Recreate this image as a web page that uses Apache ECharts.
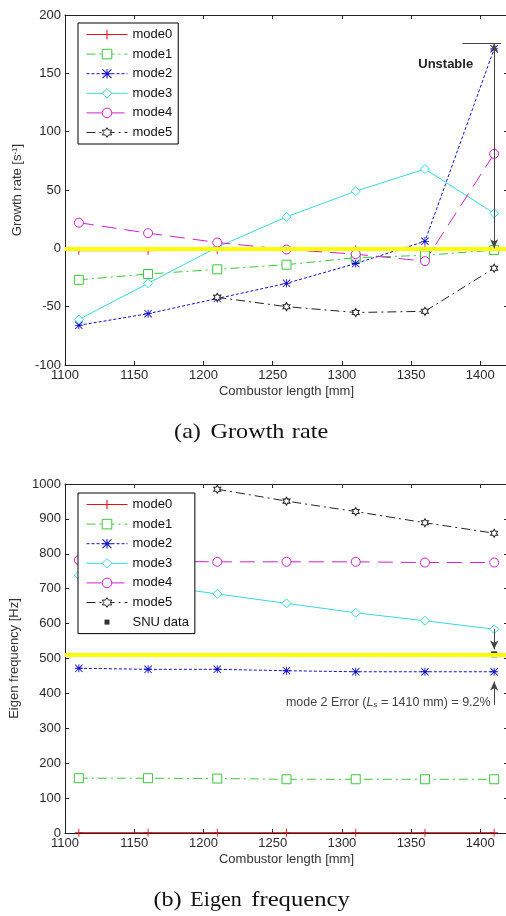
<!DOCTYPE html>
<html><head><meta charset="utf-8">
<script src="https://cdn.jsdelivr.net/npm/echarts@6/dist/echarts.min.js"></script>
<style>html,body{margin:0;padding:0;background:#fff}#c{width:506px;height:916px}</style>
</head><body><div id="c"></div>
<script>
// ---------------- data ----------------
const lengths = [1110, 1160, 1210, 1260, 1310, 1360, 1410];
const modeNames = ['mode0', 'mode1', 'mode2', 'mode3', 'mode4', 'mode5'];

const growthMode0 = [-2, -2, -1.5, -1, -1, -1, -0.5];
const growthMode1 = [-27, -22, -18, -14, -8, -6, -1.5];
const growthMode2 = [-66, -56, -43, -30, -13, 6, 171];
const growthMode3 = [-61, -30, 1, 27, 49, 68, 30];
const growthMode4 = [22, 13, 5, -1, -5, -11, 81];
const growthMode5 = [null, null, -42, -50, -55, -54, -17];

const freqMode0 = [1, 1, 1, 1, 1, 1, 1];
const freqMode1 = [157, 157, 156, 154, 154, 154, 154];
const freqMode2 = [472, 469, 469, 465, 462, 462, 462];
const freqMode3 = [739, 712, 685, 658, 631, 608, 584];
const freqMode4 = [782, 779, 777, 777, 777, 775, 775];
const freqMode5 = [null, null, 985, 951, 921, 889, 859];

const snuName = 'SNU data';
const snuLength = [1410];
const snuFreq = [512];

const growthRefLine = 0;
const freqRefLine = 510;

const xRange = [1100, 1420], xStep = 50;
const growthRange = [-100, 200], growthStep = 50;
const freqRange = [0, 1000], freqStep = 100;

// annotations (data coordinates)
const unstableArrow = [[1410, 0], [1410, 176]];
const unstableCap = [[1387, 176], [1415, 176]];
const unstableText = 'Unstable';
const unstableTextAt = [1375, 158];
const errArrowDown = [[1410, 584], [1410, 526]];
const errArrowUp = [[1410, 367], [1410, 434]];
const errTextAt = [1410, 375];

// ---------------- styles ----------------
const FONT = 'Arial, "Liberation Sans", Helvetica, sans-serif';
const SERIF = '"Times New Roman", "Liberation Serif", serif';
const SYM = {
  plus: 'path://M4,0h1v9h-1zM0,4h9v1h-9z',
  star: 'path://M4,0h1v9h-1zM0,4h9v1h-9zM0.7,0L9,8.3L8.3,9L0,0.7ZM8.3,0L9,0.7L0.7,9L0,8.3Z',
  hex: 'path://M10,0L12.887,5L18.66,5L15.77,10L18.66,15L12.887,15L10,20L7.113,15L1.34,15L4.23,10L1.34,5L7.113,5Z'
};
const modeStyle = [
  { color: '#e8101a', dash: 'solid', symbol: SYM.plus, size: 8, hollow: false, z: 1 },
  { color: '#3cc63c', dash: [9, 4, 2, 4], symbol: 'rect', size: 9, hollow: true, z: 2 },
  { color: '#1010c8', dash: [3, 2], symbol: SYM.star, size: 8, hollow: false, z: 2 },
  { color: '#3cd8dc', dash: 'solid', symbol: 'diamond', size: 9, hollow: true, z: 2 },
  { color: '#cc22cc', dash: [15, 8], symbol: 'circle', size: 9, hollow: true, z: 2 },
  { color: '#222222', dash: [9, 4, 2, 4], symbol: SYM.hex, size: [7, 8], hollow: true, z: 2 }
];

const pairs = (xs, ys) => xs.map((x, i) => [x, ys[i]]).filter(p => p[1] !== null);
const plainNum = v => String(v);

function modeSeries(idx, values, gi) {
  const st = modeStyle[idx];
  return {
    type: 'line', name: modeNames[idx], xAxisIndex: gi * 2, yAxisIndex: gi * 2,
    data: pairs(lengths, values),
    symbol: st.symbol, symbolSize: st.size, showSymbol: true, showAllSymbol: true,
    lineStyle: { color: st.color, width: 1, type: st.dash },
    itemStyle: st.hollow ? { color: '#fff', borderColor: st.color, borderWidth: 1 } : { color: st.color, borderWidth: 0 },
    emphasis: { disabled: true }, animation: false, z: st.z, silent: true
  };
}

const axisCommon = {
  axisLine: { show: true, onZero: false, lineStyle: { color: '#222', width: 1 } },
  axisTick: { show: true, inside: true, length: 4, lineStyle: { color: '#222' } },
  splitLine: { show: false }
};
function xAxisFor(gi, top) {
  return Object.assign({}, axisCommon, {
    type: 'value', gridIndex: gi, min: xRange[0], max: xRange[1], interval: xStep,
    position: top ? 'top' : 'bottom',
    axisLabel: top ? { show: false } : { show: true, color: '#2a2a2a', fontSize: 13, fontFamily: FONT, margin: 4, showMaxLabel: false, formatter: plainNum },
    name: top ? '' : 'Combustor length [mm]', nameLocation: 'middle', nameGap: 20,
    nameTextStyle: { color: '#333', fontSize: 13, fontFamily: FONT }
  });
}
function yAxisFor(gi, right, range, step, name, gap) {
  return Object.assign({}, axisCommon, {
    type: 'value', gridIndex: gi, min: range[0], max: range[1], interval: step,
    position: right ? 'right' : 'left',
    axisLabel: right ? { show: false } : { show: true, color: '#2a2a2a', fontSize: 13, fontFamily: FONT, margin: 4, formatter: plainNum },
    name: right ? '' : name, nameLocation: 'middle', nameGap: gap, nameRotate: 90,
    nameTextStyle: {
      color: '#333', fontSize: 13, fontFamily: FONT,
      rich: { a: { fontSize: 13, fontFamily: FONT, color: '#333' }, sup: { fontSize: 8, fontFamily: FONT, color: '#333', verticalAlign: 'top', padding: [0, 0, 6, 0] } }
    }
  });
}

function legendFor(top, names) {
  return {
    left: 78, top: top, orient: 'vertical', itemWidth: 41, itemHeight: 12, itemGap: 6.6,
    padding: [5, 6, 5, 8], borderColor: '#000', borderWidth: 1, backgroundColor: '#fff',
    selectedMode: false, inactiveColor: '#111',
    lineStyle: { width: 1 },
    itemStyle: { borderWidth: 1 },
    textStyle: { fontSize: 13, color: '#111', fontFamily: FONT, lineHeight: 12 },
    data: names
  };
}

const arrowStyle = { color: '#444', width: 1, type: 'solid' };
function seg(p, q, s0, s1) {
  return [{ coord: p, symbol: s0 }, { coord: q, symbol: s1 }];
}

const option = {
  backgroundColor: '#fff',
  animation: false,
  grid: [
    { left: 65, top: 15, width: 443, height: 350, containLabel: false, outerBoundsMode: 'none' },
    { left: 65, top: 484, width: 443, height: 349, containLabel: false, outerBoundsMode: 'none' }
  ],
  xAxis: [xAxisFor(0, false), xAxisFor(0, true), xAxisFor(1, false), xAxisFor(1, true)],
  yAxis: [
    yAxisFor(0, false, growthRange, growthStep, '{a|Growth rate [s}{sup|-1}{a|]}', 31),
    yAxisFor(0, true, growthRange, growthStep, '', 0),
    yAxisFor(1, false, freqRange, freqStep, 'Eigen frequency [Hz]', 38),
    yAxisFor(1, true, freqRange, freqStep, '', 0)
  ],
  legend: [
    legendFor(23, modeNames.slice()),
    legendFor(493, modeNames.concat([{ name: snuName, icon: 'path://M0,0M12,12M3.5,3.5h5v5h-5z' }]))
  ],
  graphic: [
    { type: 'text', x: 187.5, y: 432, scaleX: 1.1, style: { text: '(a)', font: '22px ' + SERIF, fill: '#111', textAlign: 'center', textVerticalAlign: 'middle' } },
    { type: 'text', x: 247.5, y: 432, scaleX: 1.1, style: { text: 'Growth', font: '22px ' + SERIF, fill: '#111', textAlign: 'center', textVerticalAlign: 'middle' } },
    { type: 'text', x: 310, y: 432, scaleX: 1.1, style: { text: 'rate', font: '22px ' + SERIF, fill: '#111', textAlign: 'center', textVerticalAlign: 'middle' } },
    { type: 'text', x: 167.5, y: 900, scaleX: 1.1, style: { text: '(b)', font: '22px ' + SERIF, fill: '#111', textAlign: 'center', textVerticalAlign: 'middle' } },
    { type: 'text', x: 216, y: 900, scaleX: 1.0, style: { text: 'Eigen', font: '22px ' + SERIF, fill: '#111', textAlign: 'center', textVerticalAlign: 'middle' } },
    { type: 'text', x: 300.5, y: 900, scaleX: 1.12, style: { text: 'frequency', font: '22px ' + SERIF, fill: '#111', textAlign: 'center', textVerticalAlign: 'middle' } }
  ],
  series: [
    modeSeries(0, growthMode0, 0),
    modeSeries(1, growthMode1, 0),
    modeSeries(2, growthMode2, 0),
    modeSeries(3, growthMode3, 0),
    modeSeries(4, growthMode4, 0),
    modeSeries(5, growthMode5, 0),
    {
      type: 'line', name: 'refA', xAxisIndex: 0, yAxisIndex: 0, data: [], z: 1.5, silent: true,
      markLine: { silent: true, animation: false, symbol: ['none', 'none'], label: { show: false },
        lineStyle: { color: '#ffff00', width: 4, type: 'solid' }, data: [{ yAxis: growthRefLine }] }
    },
    {
      type: 'line', name: 'annA', xAxisIndex: 0, yAxisIndex: 0, data: [], z: 5, silent: true,
      markLine: { silent: true, animation: false, symbolSize: [6, 9], label: { show: false }, lineStyle: arrowStyle,
        data: [seg(unstableArrow[0], unstableArrow[1], 'arrow', 'arrow'), seg(unstableCap[0], unstableCap[1], 'none', 'none')] },
      markPoint: { silent: true, animation: false, symbol: 'circle', symbolSize: 1, itemStyle: { color: 'rgba(0,0,0,0)' },
        label: { show: true, position: 'inside', formatter: unstableText, fontWeight: 'bold', fontSize: 13, color: '#222', fontFamily: FONT },
        data: [{ coord: unstableTextAt }] }
    },
    modeSeries(0, freqMode0, 1),
    modeSeries(1, freqMode1, 1),
    modeSeries(2, freqMode2, 1),
    modeSeries(3, freqMode3, 1),
    modeSeries(4, freqMode4, 1),
    modeSeries(5, freqMode5, 1),
    {
      type: 'scatter', name: snuName, xAxisIndex: 2, yAxisIndex: 2, data: pairs(snuLength, snuFreq),
      symbol: 'rect', symbolSize: 6, itemStyle: { color: '#000' }, z: 1, silent: true, animation: false
    },
    {
      type: 'line', name: 'refB', xAxisIndex: 2, yAxisIndex: 2, data: [], z: 1.5, silent: true,
      markLine: { silent: true, animation: false, symbol: ['none', 'none'], label: { show: false },
        lineStyle: { color: '#ffff00', width: 4, type: 'solid' }, data: [{ yAxis: freqRefLine }] }
    },
    {
      type: 'line', name: 'annB', xAxisIndex: 2, yAxisIndex: 2, data: [], z: 5, silent: true,
      markLine: { silent: true, animation: false, symbolSize: [6, 9], label: { show: false }, lineStyle: arrowStyle,
        data: [seg(errArrowDown[0], errArrowDown[1], 'none', 'arrow'), seg(errArrowUp[0], errArrowUp[1], 'none', 'arrow')] },
      markPoint: { silent: true, animation: false, symbol: 'circle', symbolSize: 1, itemStyle: { color: 'rgba(0,0,0,0)' },
        label: { show: true, position: 'left', distance: 3,
          formatter: '{a|mode 2 Error (}{i|L}{s|s}{a| = 1410 mm) = 9.2%}',
          rich: {
            a: { fontSize: 12.5, color: '#444', fontFamily: FONT },
            i: { fontSize: 12.5, color: '#444', fontFamily: FONT, fontStyle: 'italic' },
            s: { fontSize: 8, color: '#444', fontFamily: FONT, fontStyle: 'italic', padding: [6, 0, 0, 0] }
          } },
        data: [{ coord: errTextAt }] }
    }
  ]
};

const chart = echarts.init(document.getElementById('c'), null, { renderer: 'canvas', devicePixelRatio: 1 });
chart.setOption(option);
</script>
</body></html>
